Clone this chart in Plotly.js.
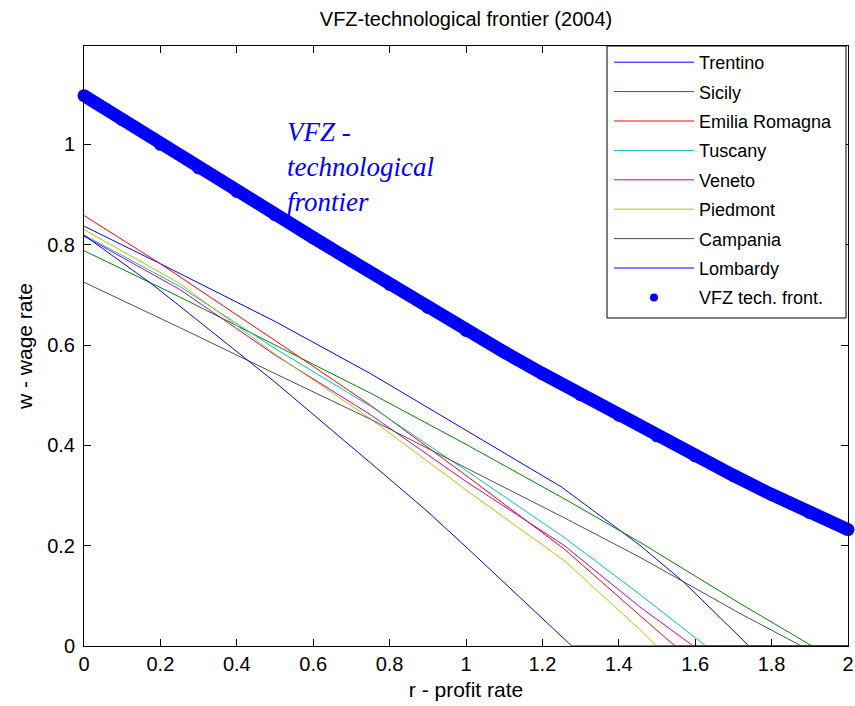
<!DOCTYPE html>
<html>
<head>
<meta charset="utf-8">
<script src="https://cdn.plot.ly/plotly-3.0.1.min.js"></script>
<style>
  html, body { margin: 0; padding: 0; background: #fff; }
  #chart { width: 855px; height: 706px; }
</style>
</head>
<body>
<div id="chart"></div>
<script>
// ---- Data ----
const regionNames = ["Trentino", "Sicily", "Emilia Romagna", "Tuscany", "Veneto", "Piedmont", "Campania", "Lombardy"];
const regionColors = ["#0000ff", "#008000", "#ff0000", "#00bfbf", "#bf00bf", "#bfbf00", "#505050", "#0000ff"];

const rTrentino = [0, 0.2, 0.5, 0.75, 1.0, 1.25, 1.455, 1.569, 1.717, 1.74, 2];
const wTrentino = [0.837, 0.762, 0.647, 0.543, 0.430, 0.317, 0.201, 0.128, 0.018, 0, 0];

const rSicily = [0, 0.105, 0.25, 0.5, 0.75, 1.0, 1.256, 1.455, 1.717, 1.906, 2];
const wSicily = [0.788, 0.749, 0.696, 0.600, 0.504, 0.402, 0.294, 0.207, 0.085, 0, 0];

const rEmilia = [0, 0.2, 0.5, 0.75, 1.0, 1.256, 1.455, 1.547, 2];
const wEmilia = [0.858, 0.762, 0.609, 0.480, 0.340, 0.194, 0.061, 0, 0];

const rTuscany = [0, 0.25, 0.5, 0.75, 1.0, 1.256, 1.455, 1.628, 2];
const wTuscany = [0.819, 0.717, 0.593, 0.478, 0.350, 0.217, 0.103, 0, 0];

const rVeneto = [0, 0.25, 0.5, 0.75, 1.0, 1.256, 1.455, 1.595, 2];
const wVeneto = [0.817, 0.711, 0.580, 0.461, 0.328, 0.201, 0.078, 0, 0];

const rPiedmont = [0, 0.25, 0.5, 0.75, 1.0, 1.256, 1.455, 1.499, 2];
const wPiedmont = [0.830, 0.723, 0.582, 0.453, 0.311, 0.171, 0.033, 0, 0];

const rCampania = [0, 0.25, 0.5, 0.75, 1.0, 1.256, 1.455, 1.717, 1.878, 2];
const wCampania = [0.725, 0.635, 0.543, 0.452, 0.355, 0.256, 0.177, 0.065, 0, 0];

const rLombardy = [0, 0.175, 0.25, 0.5, 0.75, 0.895, 1.005, 1.277, 2];
const wLombardy = [0.819, 0.723, 0.678, 0.526, 0.365, 0.271, 0.194, 0, 0];

const rFrontier = [0, 0.1, 0.2, 0.3, 0.4, 0.5, 0.6, 0.7, 0.8, 0.9, 1.0, 1.1, 1.2, 1.3, 1.4, 1.5, 1.6, 1.7, 1.8, 1.9, 2.0];
const wFrontier = [1.097, 1.049, 1.000, 0.953, 0.906, 0.860, 0.814, 0.768, 0.721, 0.675, 0.629, 0.586, 0.543, 0.501, 0.460, 0.419, 0.379, 0.340, 0.302, 0.266, 0.232];

const frontierName = "VFZ tech. front.";
const chartTitle = "VFZ-technological frontier (2004)";
const xTitle = "r - profit rate";
const yTitle = "w - wage rate";
const noteText = "VFZ -<br>technological<br>frontier";

// ---- Build traces ----
const rSeries = [rTrentino, rSicily, rEmilia, rTuscany, rVeneto, rPiedmont, rCampania, rLombardy];
const wSeries = [wTrentino, wSicily, wEmilia, wTuscany, wVeneto, wPiedmont, wCampania, wLombardy];

const traces = regionNames.map((name, i) => ({
  type: "scatter",
  mode: "lines",
  name: name,
  legendgroup: "g" + i,
  x: rSeries[i],
  y: wSeries[i],
  line: { color: regionColors[i], width: 1 },
  hoverinfo: "skip"
}));

// Thick dotted frontier band
traces.push({
  type: "scatter",
  mode: "lines+markers",
  x: rFrontier,
  y: wFrontier,
  showlegend: false,
  cliponaxis: false,
  line: { color: "#0000ff", width: 13 },
  marker: { color: "#0000ff", size: 13 },
  hoverinfo: "skip"
});
// Legend entry for the frontier (dot symbol)
traces.push({
  type: "scatter",
  mode: "markers",
  name: frontierName,
  legendgroup: "gf",
  x: [null],
  y: [null],
  marker: { color: "#0000ff", size: 8 }
});

const fontFamily = "Liberation Sans, Arial, sans-serif";

const layout = {
  width: 855,
  height: 706,
  margin: { l: 84, r: 7, t: 46, b: 60 },
  paper_bgcolor: "#ffffff",
  plot_bgcolor: "#ffffff",
  font: { family: fontFamily, size: 20, color: "#000" },
  title: {
    text: chartTitle,
    font: { family: fontFamily, size: 20, color: "#000" },
    x: 0.5,
    xref: "paper",
    xanchor: "center",
    y: 1 - 19 / 706,
    yref: "container",
    yanchor: "middle"
  },
  xaxis: {
    range: [0, 2],
    dtick: 0.2,
    tick0: 0,
    ticks: "inside",
    ticklen: 7,
    tickcolor: "#000",
    showline: true,
    linecolor: "#000",
    linewidth: 1,
    mirror: "ticks",
    showgrid: false,
    zeroline: false,
    tickfont: { family: fontFamily, size: 20, color: "#000" },
    title: { text: xTitle, font: { family: fontFamily, size: 21, color: "#000" }, standoff: 8 }
  },
  yaxis: {
    range: [0, 1.196],
    dtick: 0.2,
    tick0: 0,
    ticks: "inside",
    ticklen: 7,
    tickcolor: "#000",
    showline: true,
    linecolor: "#000",
    linewidth: 1,
    mirror: "ticks",
    showgrid: false,
    zeroline: false,
    ticklabelstandoff: 4,
    tickfont: { family: fontFamily, size: 20, color: "#000" },
    title: { text: yTitle, font: { family: fontFamily, size: 21, color: "#000" }, standoff: 8 }
  },
  legend: {
    x: (609 - 84) / 764,
    y: 1 + 2 / 600,
    xanchor: "left",
    yanchor: "top",
    bgcolor: "rgba(0,0,0,0)",
    borderwidth: 0,
    font: { family: fontFamily, size: 18, color: "#000" },
    itemwidth: 80,
    tracegroupgap: 3,
    traceorder: "grouped"
  },
  shapes: [{
    type: "rect",
    xref: "paper",
    yref: "paper",
    x0: (607 - 84) / 764,
    x1: (846 - 84) / 764,
    y0: (646 - 318) / 600,
    y1: 1,
    line: { color: "#000", width: 1 },
    fillcolor: "#ffffff",
    layer: "above"
  }],
  annotations: [{
    text: noteText,
    xref: "x",
    yref: "y",
    x: 0.526,
    y: 1.058,
    xanchor: "left",
    yanchor: "top",
    align: "left",
    showarrow: false,
    font: { family: "Liberation Serif, Times New Roman, serif", size: 27, color: "#0000ff", style: "italic" }
  }],
  showlegend: true
};

Plotly.newPlot("chart", traces, layout, { staticPlot: true, displayModeBar: false });
</script>
</body>
</html>
